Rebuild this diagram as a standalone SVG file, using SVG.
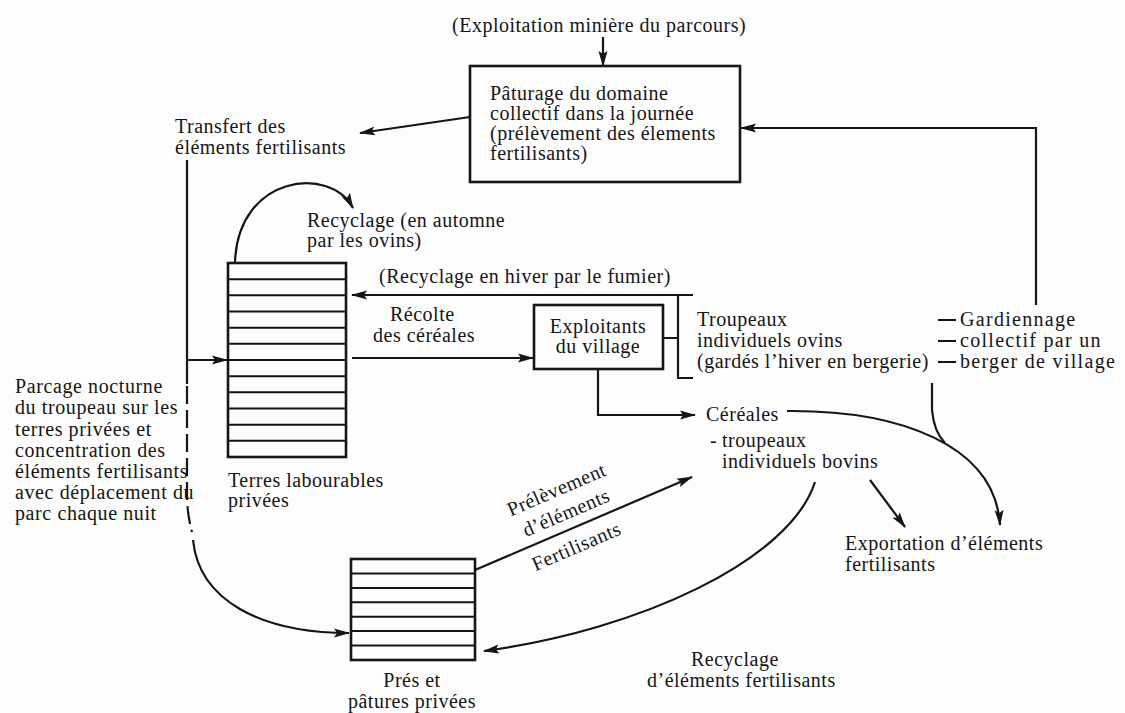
<svg xmlns="http://www.w3.org/2000/svg" width="1125" height="713" viewBox="0 0 1125 713">
<defs>
<style>
text{font-family:"Liberation Serif","Times New Roman",serif;font-size:20px;letter-spacing:0.5px;fill:#151515}
.wide{letter-spacing:0.6px}
.wider{letter-spacing:1.3px}
.ln{fill:none;stroke:#151515;stroke-width:2.2}
.bx{fill:none;stroke:#151515;stroke-width:2.6}
.st{fill:none;stroke:#151515;stroke-width:2}
.ar{marker-end:url(#ah)}
.mid{text-anchor:middle}
</style>
<marker id="ah" viewBox="0 0 16 10" refX="15" refY="5" markerWidth="16" markerHeight="10" markerUnits="userSpaceOnUse" orient="auto">
<path d="M0,0.5 L16,5 L0,9.5 L3,5 z" fill="#151515"/>
</marker>
</defs>
<rect width="1125" height="713" fill="#fdfdfd"/>

<g id="label-exploitation">
<text x="452" y="32">(Exploitation minière du parcours)</text>
</g>

<g id="node-paturage">
<rect class="bx" x="470" y="66" width="270" height="116"/>
<text x="490" y="100">Pâturage du domaine</text>
<text x="490" y="120">collectif dans la journée</text>
<text x="490" y="140">(prélèvement des élements</text>
<text x="490" y="160">fertilisants)</text>
</g>

<g id="label-transfert">
<text x="175" y="133">Transfert des</text>
<text x="175" y="154">éléments fertilisants</text>
</g>

<g id="node-terres">
<rect class="bx" x="228" y="263" width="118" height="194"/>
<path class="st" d="M228,279.2H346M228,295.3H346M228,311.5H346M228,327.7H346M228,343.8H346M228,360H346M228,376.2H346M228,392.3H346M228,408.5H346M228,424.7H346M228,440.8H346"/>
<text x="228" y="487">Terres labourables</text>
<text x="228" y="507">privées</text>
</g>

<g id="label-recyclage-automne">
<text x="307" y="227">Recyclage (en automne</text>
<text x="307" y="247">par les ovins)</text>
</g>

<g id="label-recyclage-hiver">
<text x="379" y="283">(Recyclage en hiver par le fumier)</text>
</g>

<g id="label-recolte">
<text x="390" y="321">Récolte</text>
<text x="373" y="342">des céréales</text>
</g>

<g id="node-exploitants">
<rect class="bx" x="534" y="305" width="129" height="64"/>
<text class="mid" x="598" y="333">Exploitants</text>
<text class="mid" x="598" y="353">du village</text>
</g>

<g id="node-troupeaux-ovins">
<text x="697" y="326">Troupeaux</text>
<text x="697" y="347">individuels ovins</text>
<text x="697" y="368">(gardés l’hiver en bergerie)</text>
</g>

<g id="node-gardiennage">
<text class="wider" x="960" y="326">Gardiennage</text>
<text class="wider" x="960" y="347">collectif par un</text>
<text class="wider" x="960" y="368">berger de village</text>
</g>

<g id="label-parcage">
<text class="wide" x="15" y="393">Parcage nocturne</text>
<text class="wide" x="15" y="414">du troupeau sur les</text>
<text class="wide" x="15" y="436">terres privées et</text>
<text class="wide" x="15" y="457">concentration des</text>
<text class="wide" x="15" y="478">éléments fertilisants</text>
<text class="wide" x="15" y="499">avec déplacement du</text>
<text class="wide" x="15" y="520">parc chaque nuit</text>
</g>

<g id="node-cereales">
<text x="706" y="421">Céréales</text>
<text x="710" y="447">-<tspan x="722">troupeaux</tspan></text>
<text x="722" y="468">individuels bovins</text>
</g>

<g id="node-exportation">
<text x="845" y="550">Exportation d’éléments</text>
<text x="845" y="571">fertilisants</text>
</g>

<g id="node-pres">
<rect class="bx" x="351" y="559" width="124" height="101"/>
<path class="st" d="M351,573.4H475M351,587.9H475M351,602.3H475M351,616.7H475M351,631.1H475M351,645.6H475"/>
<text class="mid" x="412" y="687">Prés et</text>
<text class="mid" x="412" y="708">pâtures privées</text>
</g>

<g id="label-prelevement" transform="translate(475,570) rotate(-23.3)">
<text x="54" y="-35">Prélèvement</text>
<text x="60" y="-10">d’éléments</text>
<text x="55" y="25">Fertilisants</text>
</g>

<g id="label-recyclage-elements">
<text x="691" y="666">Recyclage</text>
<text x="647" y="687">d’éléments fertilisants</text>
</g>

<g id="connectors">
<path class="ln ar" d="M603,37L603,66"/>
<path class="ln ar" d="M470,117L360,133"/>
<path class="ln ar" d="M1036,305L1036,128L741,128"/>
<path class="ln" d="M187,160L187,384"/>
<path class="ln ar" d="M187,360L227,360"/>
<path class="ln" stroke-dasharray="18 6" d="M187,386L187,500Q188,518 192,532"/>
<path class="ln ar" d="M193,540C199,600 260,633 349,633"/>
<path class="ln ar" d="M235,262C238,175 330,165 353,208"/>
<path class="ln ar" d="M693,295L352,295"/>
<path class="ln" d="M678,295L678,378L693,378M663,338L678,338"/>
<path class="ln ar" d="M352,358L533,358"/>
<path class="ln ar" d="M598,369L598,415L695,415"/>
<path class="ln ar" d="M787,411C900,410 995,445 1000,525"/>
<path class="ln" d="M932,383L932,410Q934,432 945,443"/>
<path class="ln ar" d="M870,480L905,527"/>
<path class="ln ar" d="M815,482C790,560 640,630 484,651"/>
<path class="ln ar" d="M475,570L692,477"/>
<path class="ln" d="M938,320H956M938,341H956M938,362H956"/>
</g>
</svg>
